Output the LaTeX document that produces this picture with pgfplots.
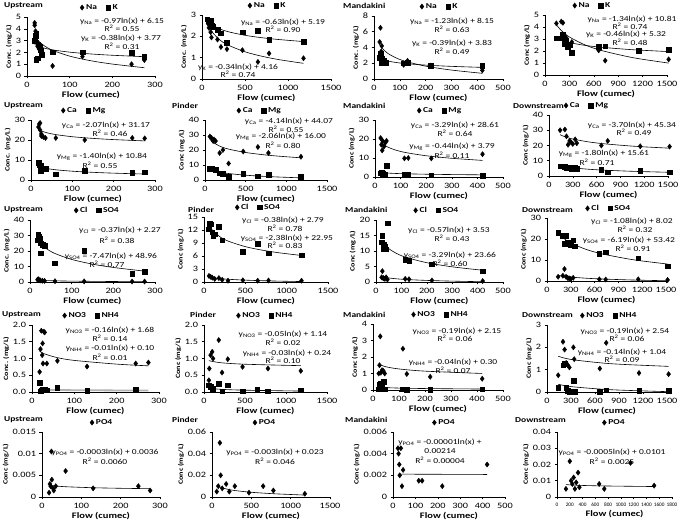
\documentclass[border=0pt]{standalone}
\usepackage{fontspec}
\setmainfont{Carlito}[FakeStretch=1.25]
\newfontfamily\plainfont{Carlito}
\usepackage{pgfplots}
\pgfplotsset{compat=1.18}
\newcommand\tickfont{\fontsize{8.2}{9}\selectfont}
\newcommand\labfont{\bfseries\fontsize{8.4}{9}\selectfont}
\newcommand\ylabfont{\bfseries\fontsize{6.5}{7}\selectfont}
\newcommand\legfont{\bfseries\fontsize{7.6}{8}\selectfont}
\newcommand\eqfont{\fontsize{7.6}{8}\selectfont}
\newcommand\ttlfont{\bfseries\fontsize{7.6}{8}\selectfont}
\pgfplotsset{
  panel/.style={
    scale only axis, anchor=south west,
    axis lines=left, axis line style={-, line width=0.5pt},
    tick align=outside, major tick length=2.5pt, tick style={black, line width=0.5pt},
    scaled ticks=false, /pgf/number format/1000 sep={},
    /pgf/number format/assume math mode=true,
    tick label style={font=\tickfont},
    xlabel={Flow (cumec)}, xlabel style={font=\labfont, yshift=3pt},
    ylabel style={font=\ylabfont, yshift=-3pt},
    ymin=0, xmin=0, clip=false,
    legend style={draw=none, fill=none, font=\legfont, legend columns=-1, anchor=south, inner sep=1pt,
      /tikz/every even column/.append style={column sep=7pt}},
  },
  leg/.style={legend style={at={(#1,1)}, yshift=3pt}},
  sA/.style={only marks, mark=diamond*, mark size=2.6pt, black},
  sB/.style={only marks, mark=square*, mark size=2.3pt, black},
  fit/.style={no marks, smooth, black, line width=0.6pt, forget plot},
}
\newcommand\eq[3]{\node[font=\eqfont, inner sep=0pt] at (#1pt,524pt-#2pt) {#3};}
\newcommand\ttl[3]{\node[font=\ttlfont, anchor=west, inner sep=0pt] at (#1pt,524pt-#2pt) {#3};}
\newcommand\ysub[1]{y\textsubscript{#1}}
\newcommand\Rsq{R\textsuperscript{2}}
\begin{document}
\begin{tikzpicture}
\useasboundingbox (0,0) rectangle (685pt,524pt);
%================ Row 1 : Na / K
\begin{axis}[panel, at={(27pt,448pt)}, width=128pt, height=59pt, xmax=300, xtick={0,100,200,300}, ymax=5, ytick={0,1,2,3,4,5}, ylabel={Conc. (mg/L)}, leg=0.57]
\addplot[sA] coordinates {(18,4.5)(18,4.3)(20,3.8)(20,3.3)(22,3.0)(24,2.9)(25,2.5)(28,2.3)(35,2.2)(60,0.85)(130,1.65)(245,1.0)(275,1.35)};
\addlegendentry{Na}
\addplot[sB] coordinates {(18,3.0)(20,3.4)(22,3.6)(22,1.4)(25,1.5)(26,2.7)(30,2.5)(32,2.2)(35,1.8)(60,2.0)(130,2.0)(245,1.95)(275,1.65)};
\addlegendentry{K}
\addplot[fit] coordinates {(18,3.347)(25,3.028)(40,2.572)(60,2.179)(100,1.683)(150,1.289)(200,1.011)(275,0.702)};
\addplot[fit] coordinates {(18,2.672)(25,2.547)(40,2.368)(60,2.214)(100,2.020)(150,1.866)(200,1.757)(275,1.636)};
\end{axis}
\begin{axis}[panel, at={(202pt,445pt)}, width=129pt, height=64pt, xmax=1500, xtick={0,500,1000,1500}, ymax=3, ytick={0,1,2,3}, ylabel={Conc. (mg/L)}, leg=0.51]
\addplot[sA] coordinates {(60,2.75)(70,2.6)(80,2.4)(100,2.2)(110,1.95)(180,1.85)(220,1.5)(290,1.4)(470,1.35)(650,0.8)(780,1.2)(1180,0.97)};
\addlegendentry{Na}
\addplot[sB] coordinates {(60,2.8)(80,2.7)(100,2.75)(110,2.5)(130,2.45)(180,2.3)(220,2.15)(290,1.7)(470,2.2)(650,2.25)(780,1.85)(1180,1.75)};
\addlegendentry{K}
\addplot[fit] coordinates {(60,2.611)(100,2.289)(200,1.852)(300,1.596)(500,1.275)(700,1.063)(900,0.904)(1180,0.734)};
\addplot[fit] coordinates {(60,2.768)(100,2.594)(200,2.359)(300,2.221)(500,2.047)(700,1.933)(900,1.847)(1180,1.755)};
\end{axis}
\begin{axis}[panel, at={(374pt,445pt)}, width=129pt, height=63pt, xmax=500, xtick={0,100,200,300,400,500}, ymax=8, ytick={0,2,4,6,8}, ylabel={Conc. (mg/L)}, leg=0.51]
\addplot[sA] coordinates {(22,4.7)(25,6.5)(28,3.5)(30,4.2)(30,2.5)(35,2.3)(40,2.0)(115,1.8)(130,2.3)(220,1.7)(420,1.1)};
\addlegendentry{Na}
\addplot[sB] coordinates {(22,2.7)(25,3.3)(28,2.0)(30,2.6)(35,2.2)(40,2.3)(45,2.1)(115,2.0)(130,2.1)(220,1.65)(420,1.65)};
\addlegendentry{K}
\addplot[fit] coordinates {(22,4.348)(30,3.967)(50,3.338)(80,2.760)(120,2.262)(200,1.633)(300,1.134)(420,0.721)};
\addplot[fit] coordinates {(22,2.625)(30,2.504)(50,2.304)(80,2.121)(120,1.963)(200,1.764)(300,1.605)(420,1.474)};
\end{axis}
\begin{axis}[panel, at={(545pt,449pt)}, width=122pt, height=60pt, xmax=1500, xtick={0,300,600,900,1200,1500}, ymax=5, ytick={0,1,2,3,4,5}, ylabel={Conc (mg/L)}, leg=0.39]
\addplot[sA] coordinates {(140,4.3)(200,4.45)(220,4.35)(230,3.2)(240,3.3)(260,3.1)(280,2.6)(300,2.5)(330,2.75)(660,2.05)(740,1.2)(1520,1.3)};
\addlegendentry{Na}
\addplot[sB] coordinates {(140,3.05)(200,3.05)(220,3.4)(240,2.6)(260,2.9)(280,2.3)(300,2.5)(330,1.85)(660,2.35)(740,2.4)(1150,2.0)(1520,2.1)};
\addlegendentry{K}
\addplot[fit] coordinates {(140,4.188)(200,3.711)(300,3.167)(500,2.482)(700,2.032)(1000,1.553)(1200,1.309)(1520,0.993)};
\addplot[fit] coordinates {(140,3.047)(200,2.883)(300,2.696)(500,2.461)(700,2.307)(1000,2.142)(1200,2.059)(1520,1.950)};
\end{axis}
%================ Row 2 : Ca / Mg
\begin{axis}[panel, at={(31pt,344pt)}, width=124pt, height=60pt, xmax=300, xtick={0,100,200,300}, ymax=30, ytick={0,10,20,30}, ylabel={Conc. (mg/L)}, leg=0.43]
\addplot[sA] coordinates {(18,26.5)(20,28)(22,28.5)(22,25)(25,23)(25,22)(30,21.5)(35,21)(60,21)(130,20)(245,21)(275,20.8)};
\addlegendentry{Ca}
\addplot[sB] coordinates {(18,8.5)(20,7.5)(22,6.5)(24,4.5)(25,7)(28,5.5)(35,5.5)(60,2.8)(130,4.5)(245,3.5)(275,3.8)};
\addlegendentry{Mg}
\addplot[fit] coordinates {(18,25.188)(25,24.507)(40,23.534)(60,22.695)(100,21.638)(150,20.797)(200,20.203)(275,19.543)};
\addplot[fit] coordinates {(18,6.794)(25,6.333)(40,5.675)(60,5.108)(100,4.393)(150,3.825)(200,3.423)(275,2.976)};
\end{axis}
\begin{axis}[panel, at={(205pt,344pt)}, width=122pt, height=60pt, xmax=1500, xtick={0,500,1000,1500}, ymax=40, ytick={0,10,20,30,40}, ylabel={Conc (mg/L)}, leg=0.45]
\addplot[sA] coordinates {(60,29)(80,28)(100,26)(110,27)(130,26)(180,18)(220,20)(290,11)(470,19)(650,22)(780,18)(1180,15.5)};
\addlegendentry{Ca}
\addplot[sB] coordinates {(60,7.5)(80,7.8)(100,7.2)(130,7)(180,4.5)(220,4.2)(290,2)(470,4)(650,2.5)(780,3.5)(1180,2)};
\addlegendentry{Mg}
\addplot[fit] coordinates {(60,27.12)(100,25.005)(200,22.136)(300,20.455)(500,18.34)(700,16.949)(900,15.91)(1180,14.788)};
\addplot[fit] coordinates {(60,7.566)(100,6.514)(200,5.086)(300,4.25)(500,3.197)(700,2.505)(900,1.988)(1180,1.43)};
\end{axis}
\begin{axis}[panel, at={(375pt,347pt)}, width=128pt, height=57pt, xmax=500, xtick={0,100,200,300,400,500}, ymax=30, ytick={0,10,20,30}, ylabel={Conc (mg/L)}, leg=0.51]
\addplot[sA] coordinates {(22,20.5)(25,17)(28,14)(30,19)(35,16)(40,18)(45,19)(115,9.8)(130,10)(220,9.8)(420,12)};
\addlegendentry{Ca}
\addplot[sB] coordinates {(22,2)(25,2.2)(28,1.8)(30,2)(35,1.5)(40,1.5)(45,6)(115,1.2)(130,1.3)(220,1)(420,0.8)};
\addlegendentry{Mg}
\addplot[fit] coordinates {(22,18.441)(30,17.421)(50,15.74)(80,14.193)(120,12.861)(200,11.18)(300,9.844)(420,8.738)};
\addplot[fit] coordinates {(22,2.43)(30,2.294)(50,2.069)(80,1.862)(120,1.684)(200,1.459)(300,1.28)(420,1.132)};
\end{axis}
\begin{axis}[panel, at={(549pt,348pt)}, width=119pt, height=61pt, xmax=1500, xtick={0,300,600,900,1200,1500}, ymax=40, ytick={0,10,20,30,40}, ylabel={Conc (mg/L)}, leg=0.32]
\addplot[sA] coordinates {(140,30)(200,30.5)(220,26)(240,20.5)(260,23)(280,22)(300,21)(330,24)(350,21.5)(660,20)(740,23)(1150,19.5)(1520,19.3)};
\addlegendentry{Ca}
\addplot[sB] coordinates {(140,6.5)(200,6.2)(220,5)(240,5.5)(260,5.8)(280,4.5)(300,5)(330,5.5)(350,4.8)(660,4)(740,2.5)(1150,3.5)(1520,2.5)};
\addlegendentry{Mg}
\addplot[fit] coordinates {(140,27.055)(200,25.737)(300,24.235)(500,22.344)(700,21.101)(1000,19.78)(1200,19.107)(1520,18.234)};
\addplot[fit] coordinates {(140,6.714)(200,6.074)(300,5.343)(500,4.423)(700,3.818)(1000,3.176)(1200,2.848)(1520,2.423)};
\end{axis}
%================ Row 3 : Cl / SO4
\begin{axis}[panel, at={(30pt,242pt)}, width=125pt, height=62pt, xmax=300, xtick={0,100,200,300}, ymax=40, ytick={0,10,20,30,40}, ylabel={Conc. (mg/L)}, leg=0.54]
\addplot[sA] coordinates {(18,1.5)(20,1.8)(22,1.2)(25,1.0)(30,0.8)(35,0.7)(60,0.5)(130,0.4)(245,0.3)(275,0.3)};
\addlegendentry{Cl}
\addplot[sB] coordinates {(18,27)(20,30.5)(22,29.5)(22,27)(24,28)(25,18.5)(26,25)(30,24)(35,23.5)(60,12)(130,20)(245,5.2)(275,6.5)};
\addlegendentry{SO4}
\addplot[fit] coordinates {(18,1.201)(30,1.012)(60,0.755)(100,0.566)(200,0.31)(275,0.192)};
\addplot[fit] coordinates {(18,27.372)(25,24.914)(40,21.403)(60,18.378)(100,14.561)(150,11.528)(200,9.384)(275,7.001)};
\end{axis}
\begin{axis}[panel, at={(204pt,242pt)}, width=124pt, height=65pt, xmax=1500, xtick={0,500,1000,1500}, ymax=15, ytick={0,3,6,9,12,15}, ylabel={Conc (mg/L)}, leg=0.44]
\addplot[sA] coordinates {(60,1.4)(80,1.2)(100,1.0)(130,0.7)(180,0.9)(220,0.5)(290,0.3)(470,0.4)(650,0.3)(780,0.35)(1180,0.3)};
\addlegendentry{Cl}
\addplot[sB] coordinates {(60,12.2)(70,13.4)(80,13.3)(100,11.5)(110,10.6)(130,11)(180,12.8)(220,9.6)(470,7)(650,8.8)(780,6.6)(1180,6.2)};
\addlegendentry{SO4}
\addplot[fit] coordinates {(60,1.234)(100,1.04)(200,0.777)(300,0.622)(500,0.428)(700,0.301)(900,0.205)(1180,0.102)};
\addplot[fit] coordinates {(60,13.206)(100,11.99)(200,10.341)(300,9.375)(500,8.158)(700,7.359)(900,6.761)(1180,6.116)};
\end{axis}
\begin{axis}[panel, at={(376pt,242pt)}, width=127pt, height=62pt, xmax=500, xtick={0,100,200,300,400,500}, ymax=20, ytick={0,5,10,15,20}, ylabel={Conc (mg/L)}, leg=0.48]
\addplot[sA] coordinates {(22,1.5)(25,3.5)(28,1.3)(30,1.2)(35,1.0)(40,1.5)(45,0.8)(115,1.0)(130,0.9)(220,0.5)(420,0.3)};
\addlegendentry{Cl}
\addplot[sB] coordinates {(22,12.8)(25,15)(28,10.8)(30,12)(35,11.5)(40,10.6)(45,19)(115,7.2)(130,6.8)(220,5.7)(420,3.5)};
\addlegendentry{SO4}
\addplot[fit] coordinates {(22,1.768)(30,1.591)(50,1.3)(80,1.032)(120,0.801)(200,0.51)(300,0.279)(420,0.087)};
\addplot[fit] coordinates {(22,13.491)(30,12.471)(50,10.79)(80,9.243)(120,7.911)(200,6.23)(300,4.894)(420,3.788)};
\end{axis}
\begin{axis}[panel, at={(547pt,243pt)}, width=119pt, height=63pt, xmax=1500, xtick={0,300,600,900,1200,1500}, ymax=30, ytick={0,10,20,30}, ylabel={Conc (mg/L)}, leg=0.52]
\addplot[sA] coordinates {(140,2)(200,2.5)(220,5.7)(240,2)(260,1.5)(280,1.2)(300,1.0)(330,1.5)(660,0.8)(740,0.7)(1150,0.8)(1520,0.5)};
\addlegendentry{Cl}
\addplot[sB] coordinates {(140,23)(200,21.5)(220,17.8)(240,21.5)(260,18.5)(280,17.5)(300,17)(330,19.5)(350,16.5)(660,13)(740,13.8)(1150,10.8)(1520,7)};
\addlegendentry{SO4}
\addplot[fit] coordinates {(140,2.683)(200,2.298)(300,1.86)(500,1.308)(700,0.945)(1000,0.559)(1200,0.363)(1520,0.108)};
\addplot[fit] coordinates {(140,22.829)(200,20.625)(300,18.112)(500,14.949)(700,12.869)(1000,10.659)(1200,9.533)(1520,8.072)};
\end{axis}
%================ Row 4 : NO3 / NH4
\begin{axis}[panel, at={(32pt,132pt)}, width=127pt, height=67pt, xmax=300, xtick={0,100,200,300}, ymax=2, ytick={0,0.5,1,1.5,2}, yticklabel style={/pgf/number format/.cd, fixed, fixed zerofill, precision=1}, ylabel={Conc. (mg/L)}, leg=0.47]
\addplot[sA] coordinates {(18,0.6)(20,1.28)(22,1.83)(24,1.1)(25,1.45)(26,0.85)(28,1.8)(30,1.78)(35,0.85)(60,0.93)(130,0.76)(245,0.85)(275,0.88)};
\addlegendentry{NO3}
\addplot[sB] coordinates {(18,0.27)(20,0.02)(22,0.05)(25,0.08)(30,0.06)(35,0.05)(60,0.12)(130,0.03)(245,0.08)};
\addlegendentry{NH4}
\addplot[fit] coordinates {(18,1.218)(30,1.136)(60,1.025)(100,0.943)(200,0.832)(275,0.781)};
\addplot[no marks, gray!60, line width=1.8pt, forget plot] coordinates {(18,0.071)(60,0.059)(100,0.054)(200,0.047)(275,0.044)};
\end{axis}
\begin{axis}[panel, at={(204pt,132pt)}, width=123pt, height=67pt, xmax=1500, xtick={0,500,1000,1500}, ymax=2, ytick={0,0.5,1,1.5,2}, yticklabel style={/pgf/number format/.cd, fixed, fixed zerofill, precision=1}, ylabel={Conc (mg/L)}, leg=0.50]
\addplot[sA] coordinates {(60,0.35)(65,0.7)(80,1.1)(100,1.2)(110,1.0)(180,1.55)(220,0.58)(290,0.98)(470,0.75)(780,0.7)(1180,0.63)};
\addlegendentry{NO3}
\addplot[sB] coordinates {(60,0.2)(80,0.15)(100,0.05)(110,0.1)(180,0.25)(220,0.02)(290,0.2)(470,0.02)(650,0.08)(780,0.02)(1180,0.05)};
\addlegendentry{NH4}
\addplot[fit] coordinates {(60,0.935)(200,0.875)(500,0.829)(1180,0.786)};
\addplot[fit] coordinates {(60,0.117)(200,0.081)(500,0.054)(1180,0.028)};
\end{axis}
\begin{axis}[panel, at={(373pt,134pt)}, width=130pt, height=66pt, xmax=500, xtick={0,100,200,300,400,500}, ymax=4, ytick={0,1,2,3,4}, ylabel={Conc (mg/L)}, leg=0.52]
\addplot[sA] coordinates {(22,1.0)(25,1.5)(28,3.25)(30,1.05)(35,1.2)(40,1.15)(45,1.0)(115,2.5)(130,0.97)(220,0.8)(420,0.68)};
\addlegendentry{NO3}
\addplot[sB] coordinates {(22,0.05)(25,0.35)(28,0.1)(30,0.4)(35,0.2)(40,0.5)(45,0.05)(115,0.05)(130,0.02)(220,0.02)(420,0.05)};
\addlegendentry{NH4}
\addplot[fit] coordinates {(22,1.563)(50,1.407)(100,1.275)(200,1.143)(420,1.002)};
\addplot[fit] coordinates {(22,0.176)(50,0.144)(100,0.116)(200,0.088)(420,0.058)};
\end{axis}
\begin{axis}[panel, at={(547pt,132pt)}, width=120pt, height=67pt, xmax=1500, xtick={0,300,600,900,1200,1500}, ymax=3, ytick={0,1,2,3}, ylabel={Conc (mg/L)}, leg=0.52]
\addplot[sA] coordinates {(140,0.75)(200,2.25)(220,1.9)(240,1.3)(260,1.2)(280,1.1)(330,2.0)(340,1.47)(660,1.05)(740,2.2)(1150,0.85)(1520,0.8)};
\addlegendentry{NO3}
\addplot[sB] coordinates {(140,0.18)(200,1.2)(220,1.28)(240,0.2)(260,0.05)(280,0.02)(300,0.02)(330,0.5)(350,0.02)(660,0.02)(740,0.08)(1150,0.05)(1520,0.05)};
\addlegendentry{NH4}
\addplot[fit] coordinates {(140,1.601)(300,1.456)(700,1.295)(1000,1.227)(1520,1.148)};
\addplot[fit] coordinates {(140,0.348)(300,0.241)(700,0.123)(1000,0.073)(1520,0.014)};
\end{axis}
%================ Row 5 : PO4
\begin{axis}[panel, at={(42pt,27pt)}, width=118pt, height=65pt, xmax=300, xtick={0,100,200,300}, ymax=0.015, ytick={0,0.005,0.01,0.015}, yticklabels={0,0.005,0.01,0.015}, ylabel={Conc (mg/L)}, leg=0.51]
\addplot[sA] coordinates {(18,0.001)(20,0.003)(22,0.0025)(24,0.0105)(25,0.004)(28,0.002)(30,0.0015)(35,0.0025)(60,0.006)(130,0.002)(245,0.0025)(275,0.0015)};
\addlegendentry{PO4}
\addplot[fit] coordinates {(18,0.00273)(30,0.00258)(60,0.00237)(130,0.00214)(200,0.00201)(275,0.00192)};
\end{axis}
\begin{axis}[panel, at={(212pt,27pt)}, width=118pt, height=65pt, xmax=1500, xtick={0,500,1000,1500}, ymax=0.06, ytick={0,0.02,0.04,0.06}, yticklabels={0,0.02,0.04,0.06}, ylabel={Conc (mg/L)}, leg=0.45]
\addplot[sA] coordinates {(60,0.005)(80,0.01)(100,0.05)(110,0.02)(130,0.008)(180,0.012)(220,0.005)(290,0.01)(470,0.004)(650,0.01)(780,0.006)(1180,0.003)};
\addlegendentry{PO4}
\addplot[fit] coordinates {(60,0.01072)(100,0.00918)(200,0.00711)(300,0.00589)(500,0.00435)(800,0.00295)(1180,0.00178)};
\end{axis}
\begin{axis}[panel, at={(393pt,27pt)}, width=112pt, height=65pt, xmax=500, xtick={0,100,200,300,400,500}, ymax=0.006, ytick={0,0.002,0.004,0.006}, yticklabels={0,0.002,0.004,0.006}, ylabel={Conc (mg/L)}, leg=0.46]
\addplot[sA] coordinates {(22,0.0045)(25,0.004)(28,0.003)(30,0.002)(35,0.0045)(40,0.001)(45,0.0025)(115,0.0015)(130,0.0015)(220,0.001)(420,0.003)};
\addlegendentry{PO4}
\addplot[fit] coordinates {(22,0.00211)(420,0.00208)};
\end{axis}
\begin{axis}[panel, at={(557pt,27pt)}, width=115pt, height=65pt, xmax=1800, xtick={0,200,400,600,800,1000,1200,1400,1600,1800}, xticklabel style={font=\plainfont\fontsize{5.3}{6}\selectfont}, ymax=0.04, ytick={0,0.01,0.02,0.03,0.04}, yticklabels={0,0.01,0.02,0.03,0.04}, ylabel={Conc (mg/L)}, leg=0.50]
\addplot[sA] coordinates {(140,0.005)(200,0.022)(220,0.01)(240,0.008)(260,0.012)(280,0.005)(300,0.009)(330,0.015)(350,0.006)(660,0.008)(740,0.005)(1150,0.021)(1520,0.007)};
\addlegendentry{PO4}
\addplot[fit] coordinates {(140,0.00763)(300,0.00725)(700,0.00682)(1520,0.00644)};
\end{axis}
%================ titles
\ttl{4}{6}{Upstream}\ttl{343}{6}{Mandakini}
\ttl{4}{106}{Upstream}\ttl{172}{106}{Pinder}\ttl{343}{106}{Mandakini}\ttl{513}{106}{Downstream}
\ttl{4}{210}{Upstream}\ttl{188}{210}{Pinder}\ttl{345}{210}{Mandakini}\ttl{522}{210}{Downstream}
\ttl{2}{315}{Upstream}\ttl{190}{315}{Pinder}\ttl{343}{315}{Mandakini}\ttl{522}{315}{Downstream}
\ttl{4}{420}{Upstream}\ttl{172}{420}{Pinder}\ttl{345}{420}{Mandakini}\ttl{515}{420}{Downstream}
%================ equations
\eq{122}{21}{\ysub{Na} = -0.97ln(x) + 6.15}\eq{122}{28}{\Rsq{} = 0.55}\eq{121}{38}{\ysub{K} = -0.38ln(x) + 3.77}\eq{122}{46}{\Rsq{} = 0.31}
\eq{283}{22}{\ysub{Na} = -0.63ln(x) + 5.19}\eq{283}{29}{\Rsq{} = 0.90}\eq{238}{67}{\ysub{K} = -0.34ln(x) + 4.16}\eq{238}{74}{\Rsq{} = 0.74}
\eq{452}{21}{\ysub{Na} = -1.23ln(x) + 8.15}\eq{452}{29}{\Rsq{} = 0.63}\eq{452}{43}{\ysub{K} = -0.39ln(x) + 3.83}\eq{452}{51}{\Rsq{} = 0.49}
\eq{632}{19}{\ysub{Na} = -1.34ln(x) + 10.81}\eq{630}{26}{\Rsq{} = 0.74}\eq{626}{34}{\ysub{K} = -0.46ln(x) + 5.32}\eq{630}{42}{\Rsq{} = 0.48}
\eq{106}{125}{\ysub{Ca} = -2.07ln(x) + 31.17}\eq{110}{133}{\Rsq{} = 0.46}\eq{102}{157}{\ysub{Mg} = -1.40ln(x) + 10.84}\eq{100}{165}{\Rsq{} = 0.55}
\eq{289}{121}{\ysub{Ca} = -4.14ln(x) + 44.07}\eq{286}{129}{\Rsq{} = 0.55}\eq{281}{137}{\ysub{Mg} = -2.06ln(x) + 16.00}\eq{283}{145}{\Rsq{} = 0.80}
\eq{455}{125}{\ysub{Ca} = -3.29ln(x) + 28.61}\eq{455}{133}{\Rsq{} = 0.64}\eq{452}{147}{\ysub{Mg} = -0.44ln(x) + 3.79}\eq{452}{155}{\Rsq{} = 0.11}
\eq{632}{125}{\ysub{Ca} = -3.70ln(x) + 45.34}\eq{634}{132}{\Rsq{} = 0.49}\eq{604}{154}{\ysub{Mg} = -1.80ln(x) + 15.61}\eq{597}{162}{\Rsq{} = 0.71}
\eq{120}{230}{\ysub{Cl} = -0.37ln(x) + 2.27}\eq{117}{240}{\Rsq{} = 0.38}\eq{111}{256}{\ysub{SO4} = -7.47ln(x) + 48.96}\eq{107}{264}{\Rsq{} = 0.77}
\eq{283}{220}{\ysub{Cl} = -0.38ln(x) + 2.79}\eq{285}{228}{\Rsq{} = 0.78}\eq{287}{238}{\ysub{SO4} = -2.38ln(x) + 22.95}\eq{285}{245}{\Rsq{} = 0.83}
\eq{449}{230}{\ysub{Cl} = -0.57ln(x) + 3.53}\eq{452}{238}{\Rsq{} = 0.43}\eq{450}{255}{\ysub{SO4} = -3.29ln(x) + 23.66}\eq{450}{263}{\Rsq{} = 0.60}
\eq{632}{221}{\ysub{Cl} = -1.08ln(x) + 8.02}\eq{635}{229}{\Rsq{} = 0.32}\eq{629}{240}{\ysub{SO4} = -6.19ln(x) + 53.42}\eq{633}{248}{\Rsq{} = 0.91}
\eq{110}{330}{\ysub{NO3} = -0.16ln(x) + 1.68}\eq{110}{338}{\Rsq{} = 0.14}\eq{110}{348}{\ysub{NH4} = -0.01ln(x) + 0.10}\eq{110}{357}{\Rsq{} = 0.01}
\eq{283}{334}{\ysub{NO3} = -0.05ln(x) + 1.14}\eq{283}{342}{\Rsq{} = 0.02}\eq{287}{353}{\ysub{NH4} = -0.03ln(x) + 0.24}\eq{283}{360}{\Rsq{} = 0.10}
\eq{457}{331}{\ysub{NO3} = -0.19ln(x) + 2.15}\eq{455}{338}{\Rsq{} = 0.06}\eq{453}{362}{\ysub{NH4} = -0.04ln(x) + 0.30}\eq{453}{370}{\Rsq{} = 0.07}
\eq{625}{331}{\ysub{NO3} = -0.19ln(x) + 2.54}\eq{627}{338}{\Rsq{} = 0.06}\eq{622}{352}{\ysub{NH4} = -0.14ln(x) + 1.04}\eq{622}{359}{\Rsq{} = 0.09}
\eq{105}{452}{\ysub{PO4} = -0.0003ln(x) + 0.0036}\eq{105}{461}{\Rsq{} = 0.0060}
\eq{275}{452}{\ysub{PO4} = -0.003ln(x) + 0.023}\eq{275}{461}{\Rsq{} = 0.046}
\eq{440}{442}{\ysub{PO4} = -0.00001ln(x) +}\eq{440}{451}{0.00214}\eq{440}{460}{\Rsq{} = 0.00004}
\eq{612}{452}{\ysub{PO4} = -0.0005ln(x) + 0.0101}\eq{612}{461}{\Rsq{} = 0.0025}
\end{tikzpicture}
\end{document}
